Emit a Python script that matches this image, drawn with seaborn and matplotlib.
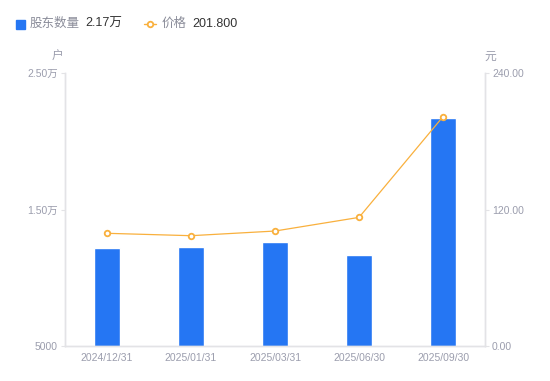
import pandas as pd
import matplotlib
matplotlib.use("Agg")
import matplotlib.pyplot as plt
import seaborn as sns
from matplotlib.lines import Line2D
from matplotlib.patches import Rectangle

# data
dates = ["2024/12/31", "2025/01/31", "2025/03/31", "2025/06/30", "2025/09/30"]
holders = [12160, 12250, 12600, 11670, 21700]     # 户
prices = [99.1, 97.0, 101.1, 113.1, 201.8]          # 元

blue = "#2576f3"
orange = "#f9b03d"
grey = "#9b9dad"
axis_col = "#e3e3e6"

sns.set_theme(style="white")
plt.rcParams["font.family"] = ["Liberation Sans", "Noto Sans CJK SC"]

df = pd.DataFrame({"date": dates, "holders": holders, "price": prices})

fig = plt.figure(figsize=(5.5, 3.81), dpi=100)
ax = fig.add_axes([0.118, 0.092, 0.764, 0.716])
ax2 = ax.twinx()

sns.barplot(data=df, x="date", y="holders", color=blue, width=0.3,
            saturation=1, ax=ax, zorder=2)
sns.pointplot(data=df, x="date", y="price", color=orange, ax=ax2,
              markers="o", linewidth=0.9, markersize=4,
              markerfacecolor="white", markeredgewidth=1.3, zorder=3)

ax.set_xlim(-0.5, 4.5)
ax.set_ylim(5000, 25000)
ax2.set_ylim(0, 240)
ax.set_yticks([5000, 15000, 25000])
ax.set_yticklabels(["5000", "1.50万", "2.50万"])
ax2.set_yticks([0, 120, 240])
ax2.set_yticklabels(["0.00", "120.00", "240.00"])

for a in (ax, ax2):
    a.set_xlabel("")
    a.set_ylabel("")
    for s in a.spines.values():
        s.set_color(axis_col)
        s.set_linewidth(1)
    a.spines["top"].set_visible(False)
    a.tick_params(axis="y", colors=grey, labelsize=7.5, length=3,
                  width=0.8, pad=2, color=axis_col)
ax.tick_params(axis="x", colors=grey, labelsize=7.5, length=0, pad=5)
ax.tick_params(axis="y", left=True)
ax2.tick_params(axis="y", right=True)
for lbl in ax.get_xticklabels():
    lbl.set_color(grey)

# units
fig.text(58 / 550, 1 - 57 / 381, "户", color=grey, fontsize=8.5,
         ha="center", va="center")
fig.text(490 / 550, 1 - 57 / 381, "元", color=grey, fontsize=8.5,
         ha="center", va="center")

# legend row
fig.patches.append(Rectangle((16 / 550, 1 - 29 / 381), 9 / 550, 9 / 381,
                             transform=fig.transFigure, color=blue,
                             figure=fig))
fig.text(30 / 550, 1 - 24 / 381, "股东数量", color="#8a8c99", fontsize=9,
         va="center")
fig.text(85 / 550, 1 - 24 / 381, "2.17万", color="#333333", fontsize=9,
         va="center")
fig.lines.append(Line2D([144 / 550, 156 / 550], [1 - 24 / 381] * 2,
                        transform=fig.transFigure, color=orange, lw=1,
                        figure=fig))
fig.lines.append(Line2D([150 / 550], [1 - 24 / 381],
                        transform=fig.transFigure, color=orange, lw=0,
                        marker="o", markersize=4, markerfacecolor="white",
                        markeredgewidth=1.3, figure=fig))
fig.text(162 / 550, 1 - 24 / 381, "价格", color="#8a8c99", fontsize=9,
         va="center")
fig.text(192 / 550, 1 - 24 / 381, "201.800", color="#333333", fontsize=9,
         va="center")

fig.savefig("out.png", dpi=100)
